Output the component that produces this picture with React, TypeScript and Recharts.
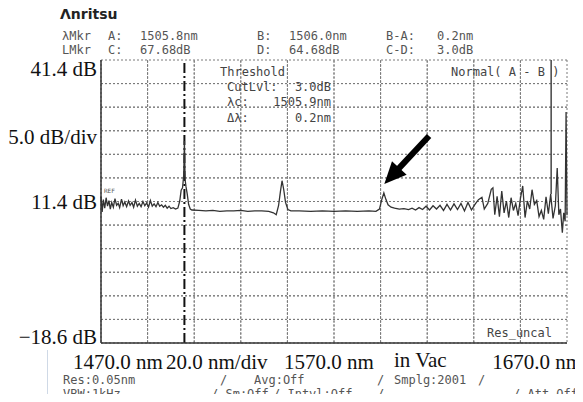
import React from "react";
import {
  LineChart,
  Line,
  XAxis,
  YAxis,
  CartesianGrid,
  ReferenceLine,
} from "recharts";

// trace: wavelength (nm) and level (dB)
const wavelength = [
  1470.0, 1470.5, 1471.0, 1471.6, 1472.2, 1472.8, 1473.4, 1474.0, 1474.6, 1475.3,
  1476.0, 1476.7, 1477.4, 1478.0, 1478.8, 1479.5, 1480.2, 1481.0, 1481.8, 1482.5,
  1483.3, 1484.0, 1484.8, 1485.6, 1486.4, 1487.2, 1488.0, 1488.8, 1489.6, 1490.4,
  1491.2, 1492.0, 1492.8, 1493.6, 1494.4, 1495.2, 1496.0, 1496.8, 1497.6, 1498.4,
  1499.2, 1500.0, 1501.0, 1502.0, 1503.0, 1503.8, 1504.4, 1505.0, 1505.5, 1505.8,
  1506.1, 1506.5, 1507.0, 1507.6, 1508.3, 1509.0, 1512.0, 1515.0, 1518.0, 1521.0,
  1524.0, 1527.0, 1530.0, 1533.0, 1536.0, 1539.0, 1542.0, 1544.0, 1545.2, 1546.2,
  1547.0, 1547.7, 1548.4, 1549.2, 1550.2, 1551.5, 1555.0, 1560.0, 1565.0, 1570.0,
  1575.0, 1580.0, 1585.0, 1588.0, 1589.5, 1590.5, 1591.4, 1592.3, 1593.2, 1594.5,
  1596.0, 1598.0, 1600.0, 1602.0, 1603.5, 1605.0, 1606.5, 1608.0, 1609.5, 1611.0,
  1612.5, 1614.0, 1615.5, 1617.0, 1618.5, 1620.0, 1621.5, 1623.0, 1624.5, 1626.0,
  1627.5, 1629.0, 1630.5, 1632.0, 1633.5, 1634.5, 1636.0, 1637.5, 1638.2, 1639.0,
  1640.0, 1641.0, 1642.0, 1643.0, 1644.0, 1645.0, 1646.0, 1647.0, 1648.0, 1649.0,
  1650.0, 1651.0, 1652.0, 1653.0, 1654.0, 1655.0, 1656.0, 1657.0, 1658.0, 1659.0,
  1660.0, 1661.0, 1662.0, 1663.0, 1664.0, 1665.0, 1665.8, 1666.5, 1667.2, 1668.0,
  1668.6, 1669.2, 1669.6, 1670.0,
];
const level = [
  12.4, 9.2, 11.8, 10.0, 12.2, 10.4, 11.6, 9.8, 11.2, 10.2,
  12.0, 10.6, 11.0, 10.1, 11.9, 10.5, 11.3, 10.3, 11.5, 10.6,
  11.2, 10.2, 11.7, 10.4, 11.0, 10.3, 11.4, 10.5, 11.1, 10.2,
  11.6, 10.4, 10.9, 10.3, 11.2, 10.4, 10.7, 10.2, 10.6, 10.0,
  10.4, 9.9, 10.1, 9.8, 10.0, 11.5, 13.8, 14.3, 17.0, 24.2,
  16.0, 14.5, 13.0, 10.8, 9.8, 9.6, 9.5, 9.4, 9.5, 9.3,
  9.4, 9.4, 9.5, 9.3, 9.4, 9.4, 9.3, 9.0, 8.6, 10.5,
  13.5, 15.8, 14.0, 11.2, 9.7, 9.4, 9.4, 9.3, 9.4, 9.3,
  9.4, 9.3, 9.4, 9.3, 9.8, 11.8, 13.2, 11.8, 10.7, 10.2,
  10.0, 9.8, 9.9, 9.7, 10.0, 9.6, 10.1, 9.7, 10.4, 9.6,
  10.5, 9.8, 10.6, 9.5, 10.8, 9.6, 10.9, 9.7, 11.0, 9.4,
  11.2, 9.6, 10.8, 11.8, 12.3, 9.8, 11.0, 14.0, 14.3, 8.6,
  12.5, 8.2, 13.6, 9.0, 11.5, 8.0, 12.2, 9.5, 11.0, 8.4,
  12.0, 14.7, 8.0, 11.5, 9.8, 13.9, 10.8, 11.6, 8.2, 9.5,
  7.6, 12.4, 8.8, 13.0, 7.8, 10.5, 18.5, 8.6, 9.8, 4.8,
  9.0, 7.2, 30.4, 8.5,
];

const gridX = [1470, 1490, 1510, 1530, 1550, 1570, 1590, 1610, 1630, 1650, 1670];
const gridY = [41.4, 36.4, 31.4, 26.4, 21.4, 16.4, 11.4, 6.4, 1.4, -3.6, -8.6, -13.6, -18.6];
const xLabels: Record<number, string> = { 1470: "1470.0 nm", 1570: "1570.0 nm", 1670: "1670.0 nm" };
const yLabels: Record<string, string> = { "41.4": "41.4 dB", "11.4": "11.4 dB", "-18.6": "\u221218.6 dB" };

const markerA = 1505.8;
const markerLine = 1663.2;
const arrowFrom = { x: 1610.8, y: 25.3 };
const arrowTo = { x: 1591.6, y: 15.1 };

const data = wavelength.map((w, i) => ({ w, db: level[i] }));

const SERIF = "'Liberation Serif', 'Times New Roman', serif";
const MONO = "'DejaVu Sans Mono', monospace";
const GRID = "#7a7a7a";

function XTick(props: any) {
  const { x, y, payload } = props;
  const label = xLabels[payload.value];
  if (!label) return <g />;
  let tx = x;
  let anchor = "middle";
  if (payload.value === 1470) tx = x + 17;
  if (payload.value === 1570) tx = x - 5;
  if (payload.value === 1670) {
    tx = x + 15;
    anchor = "end";
  }
  return (
    <text x={tx} y={y + 11} textAnchor={anchor} dominantBaseline="central" fontFamily={SERIF} fontSize={21} fill="#111">
      {label}
    </text>
  );
}

function YTick(props: any) {
  const { x, y, payload } = props;
  const key = String(Math.round(payload.value * 10) / 10);
  const label = yLabels[key];
  if (!label) return <g />;
  let dy = 0;
  if (key === "41.4") dy = 9;
  if (key === "-18.6") dy = -6;
  return (
    <text x={x} y={y + dy} textAnchor="end" dominantBaseline="central" fontFamily={SERIF} fontSize={21} fill="#111">
      {label}
    </text>
  );
}

function Arrow(props: any) {
  const { x1, y1, x2, y2 } = props;
  if (x1 == null) return null;
  const dx = x2 - x1;
  const dy = y2 - y1;
  const len = Math.sqrt(dx * dx + dy * dy);
  const ux = dx / len;
  const uy = dy / len;
  const head = 22;
  const half = 10;
  const bx = x2 - ux * head;
  const by = y2 - uy * head;
  return (
    <g>
      <line x1={x1} y1={y1} x2={bx + ux * 2} y2={by + uy * 2} stroke="#000" strokeWidth={6} />
      <polygon
        points={`${x2},${y2} ${bx - uy * half},${by + ux * half} ${bx + uy * half},${by - ux * half}`}
        fill="#000"
      />
    </g>
  );
}

const txt = (left: number, top: number, s: string, extra: React.CSSProperties = {}) => (
  <div
    style={{
      position: "absolute",
      left,
      top: top - 7,
      fontFamily: MONO,
      fontSize: 12,
      lineHeight: "14px",
      color: "#555",
      whiteSpace: "pre",
      ...extra,
    }}
  >
    {s}
  </div>
);

const txtR = (right: number, top: number, s: string) => (
  <div
    style={{
      position: "absolute",
      left: right - 120,
      width: 120,
      textAlign: "right",
      top: top - 7,
      fontFamily: MONO,
      fontSize: 12,
      lineHeight: "14px",
      color: "#444",
      whiteSpace: "pre",
    }}
  >
    {s}
  </div>
);

export default function App() {
  return (
    <div style={{ position: "relative", margin: -8, width: 583, height: 402, background: "#fff" }}>
      <LineChart width={583} height={402} data={data} margin={{ top: 60, right: 16, bottom: 0, left: 0 }}>
        <CartesianGrid stroke={GRID} strokeWidth={1} strokeDasharray="2 2" />
        <XAxis
          dataKey="w"
          type="number"
          domain={[1470, 1670]}
          ticks={gridX}
          interval={0}
          height={59}
          tickLine={false}
          axisLine={{ stroke: "#333", strokeWidth: 1.5 }}
          tick={<XTick />}
        />
        <YAxis
          type="number"
          domain={[-18.6, 41.4]}
          ticks={gridY}
          interval={0}
          width={101}
          tickLine={false}
          tickMargin={-2}
          axisLine={{ stroke: "#333", strokeWidth: 1.5 }}
          tick={<YTick />}
        />
        <XAxis xAxisId="top" orientation="top" type="number" domain={[1470, 1670]} height={0} tick={false} tickLine={false} axisLine={{ stroke: "#333", strokeWidth: 1.5 }} />
        <YAxis yAxisId="right" orientation="right" type="number" domain={[-18.6, 41.4]} width={0} tick={false} tickLine={false} axisLine={{ stroke: "#333", strokeWidth: 1.5 }} />
        {gridX.slice(1, -1).map((g) => (
          <ReferenceLine key={"gx" + g} x={g} stroke={GRID} strokeWidth={1} strokeDasharray="2 2" />
        ))}
        {gridY.slice(1, -1).map((g) => (
          <ReferenceLine key={"gy" + g} y={g} stroke={GRID} strokeWidth={1} strokeDasharray="2 2" />
        ))}
        <ReferenceLine x={markerA} stroke="#111" strokeWidth={2} strokeDasharray="10 3 2 3" />
        <ReferenceLine
          segment={[
            { x: markerLine, y: 41.4 },
            { x: markerLine, y: 13 },
          ]}
          stroke="#444"
          strokeWidth={1.5}
        />
        <Line
          type="linear"
          dataKey="db"
          stroke="#333"
          strokeWidth={1.3}
          dot={false}
          isAnimationActive={false}
        />
        <ReferenceLine
          segment={[arrowFrom, arrowTo]}
          shape={(p: any) => <Arrow {...p} />}
        />
      </LineChart>

      {/* faint frame lines of the screenshot */}
      <div style={{ position: "absolute", left: 577, top: 0, width: 1, height: 346, background: "#dfe5ee" }} />
      <div style={{ position: "absolute", left: 47, top: 350, width: 1, height: 52, background: "#cfd9e6" }} />

      {/* header */}
      <div style={{ position: "absolute", left: 60, top: 6, fontFamily: "'DejaVu Sans', sans-serif", fontWeight: 700, fontSize: 14, lineHeight: "16px", color: "#222" }}>
        Λnritsu
      </div>
      {txt(62, 36, "λMkr")}
      {txt(108, 36, "A:")}
      {txt(140, 36, "1505.8nm")}
      {txt(257, 36, "B:")}
      {txt(289, 36, "1506.0nm")}
      {txt(386, 36, "B-A:")}
      {txt(437, 36, "0.2nm")}
      {txt(62, 50, "LMkr")}
      {txt(108, 50, "C:")}
      {txt(140, 50, "67.68dB")}
      {txt(257, 50, "D:")}
      {txt(289, 50, "64.68dB")}
      {txt(386, 50, "C-D:")}
      {txt(437, 50, "3.0dB")}

      {/* in-plot annotations */}
      {txt(220, 72, "Threshold", { color: "#444" })}
      {txt(227, 87, "CutLvl:", { color: "#444" })}
      {txtR(331, 87, "3.0dB")}
      {txt(227, 102, "λc:", { color: "#444" })}
      {txtR(331, 102, "1505.9nm")}
      {txt(227, 118, "Δλ:", { color: "#444" })}
      {txtR(331, 118, "0.2nm")}
      {txt(451, 72, "Normal( A - B )", { color: "#444" })}
      {txt(487, 333, "Res_uncal", { color: "#444" })}
      {txt(104, 191, "REF", { fontSize: 6, lineHeight: "8px", top: 187 })}

      {/* serif axis notes */}
      <div style={{ position: "absolute", right: 583 - 97, top: 125, fontFamily: SERIF, fontSize: 21, lineHeight: "24px", color: "#111", whiteSpace: "pre" }}>
        5.0 dB/div
      </div>
      <div style={{ position: "absolute", left: 166, top: 350, fontFamily: SERIF, fontSize: 21, lineHeight: "24px", color: "#111", whiteSpace: "pre" }}>
        20.0 nm/div
      </div>
      <div style={{ position: "absolute", left: 394, top: 348, fontFamily: SERIF, fontSize: 21, lineHeight: "24px", color: "#111", whiteSpace: "pre" }}>
        in Vac
      </div>

      {/* footer */}
      {txt(63, 380, "Res:0.05nm")}
      {txt(220, 380, "/")}
      {txt(254, 380, "Avg:Off")}
      {txt(377, 380, "/")}
      {txt(394, 380, "Smplg:2001")}
      {txt(478, 380, "/")}
      {txt(63, 394, "VBW:1kHz")}
      {txt(211, 394, "/ Sm:Off")}
      {txt(273, 394, "/ Intvl:Off")}
      {txt(377, 394, "/")}
      {txt(513, 394, "/ Att Off")}
    </div>
  );
}
